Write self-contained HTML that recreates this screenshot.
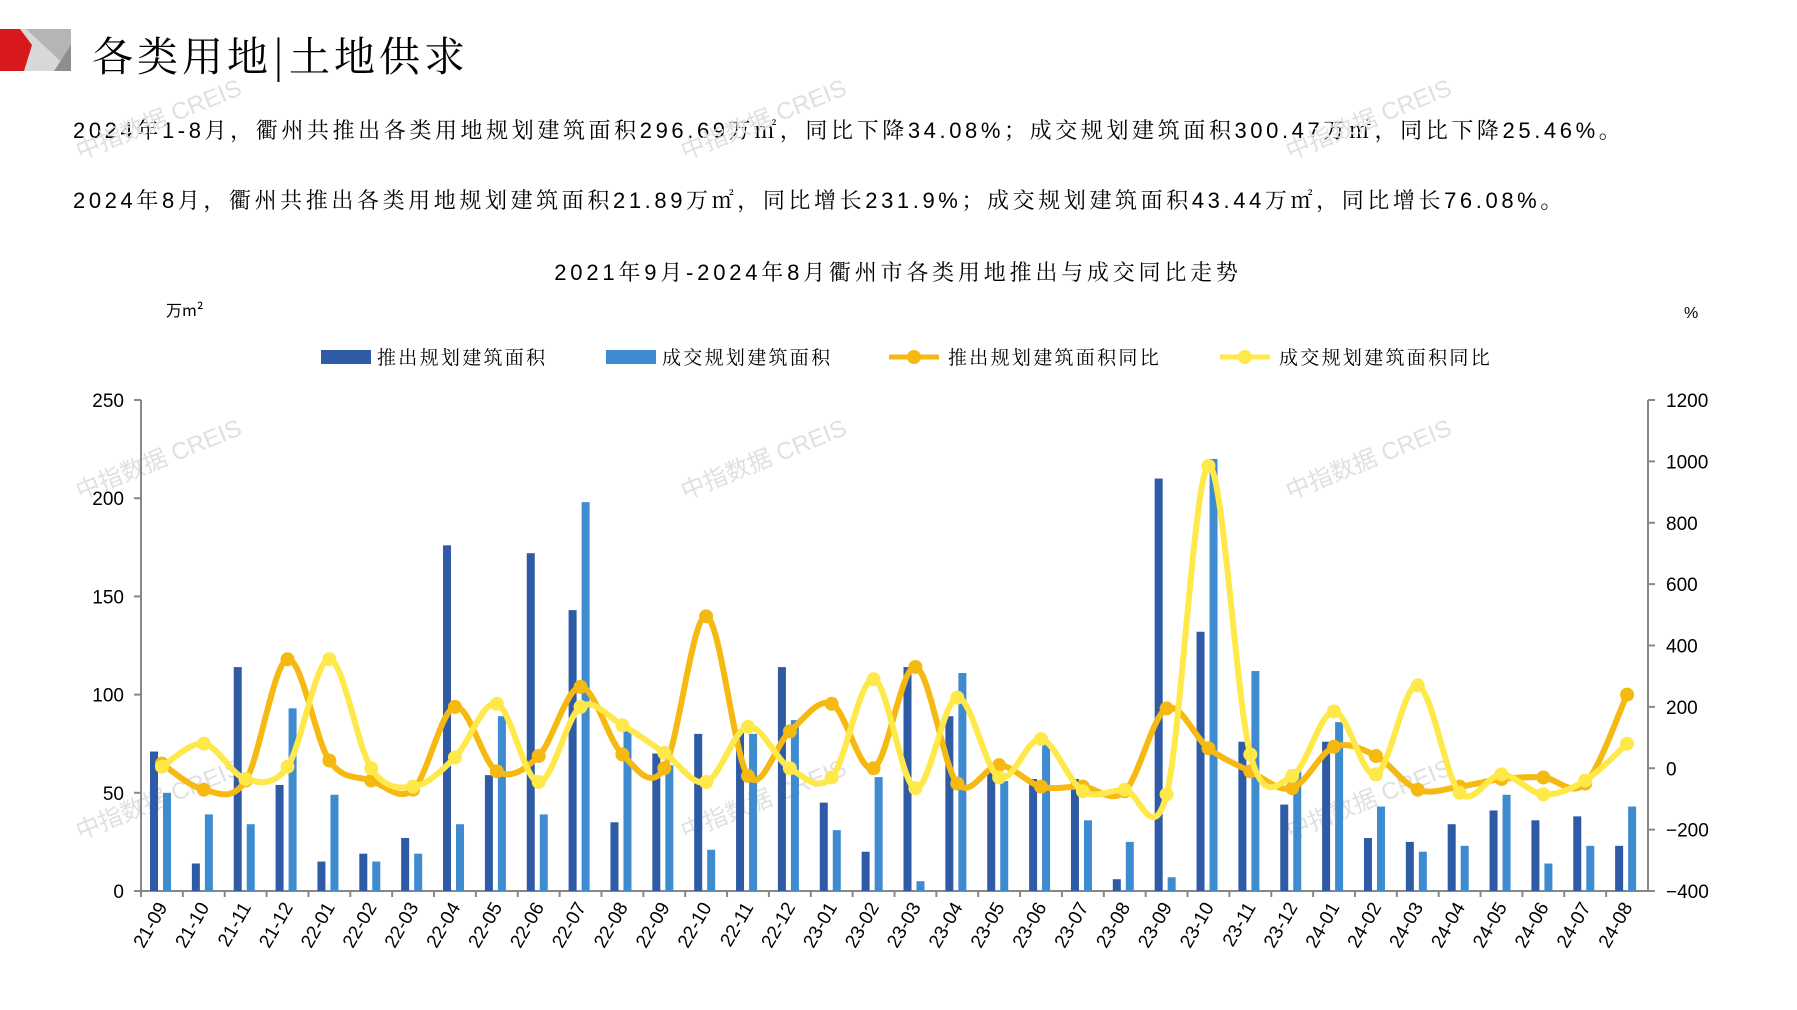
<!DOCTYPE html>
<html><head><meta charset="utf-8">
<style>
html,body{margin:0;padding:0;background:#fff;}
body{width:1797px;height:1010px;position:relative;overflow:hidden;font-family:"Liberation Sans","Noto Sans CJK SC",sans-serif;}
.t{position:absolute;white-space:nowrap;color:#000;}
</style></head><body>
<svg width="72" height="72" style="position:absolute;left:0;top:0">
<polygon points="0,29 26,29 71,71 0,71" fill="#d8d8d8"/>
<polygon points="26,29 71,29 71,71" fill="#b5b5b5"/>
<polygon points="71,45 71,71 54,71" fill="#8e8e8e"/>
<polygon points="0,29 20,29 32,45 24,71 0,71" fill="#d7191e"/>
</svg>
<div class="t" style="left:92px;top:24px;font-size:41px;font-family:'Noto Serif CJK SC',serif;letter-spacing:4px">各类用地|土地供求</div>
<div class="t" style="left:73px;top:114px;font-size:22px;letter-spacing:3.6px;font-family:'Liberation Sans','Noto Serif CJK SC',serif;">2024年1-8月，衢州共推出各类用地规划建筑面积296.69万㎡，同比下降34.08%；成交规划建筑面积300.47万㎡，同比下降25.46%。</div>
<div class="t" style="left:73px;top:184px;font-size:22px;letter-spacing:3.6px;font-family:'Liberation Sans','Noto Serif CJK SC',serif;">2024年8月，衢州共推出各类用地规划建筑面积21.89万㎡，同比增长231.9%；成交规划建筑面积43.44万㎡，同比增长76.08%。</div>
<svg id="c" width="1797" height="1010" style="position:absolute;left:0;top:0"></svg>
<script>
var P=[71,14,114,54,15,19,27,176,59,172,143,35,70,80,82,114,45,20,114,89,62,57,57,6,210,132,76,44,76,27,25,34,41,36,38,23];
var S=[50,39,34,93,49,15,19,34,89,39,198,83,64,21,80,87,31,58,5,111,56,76,36,25,7,220,112,62,86,43,20,23,49,14,23,43];
var PY=[15,-70,-40,355,25,-40,-70,200,-10,40,265,45,0,495,-25,120,210,0,330,-50,10,-60,-60,-75,195,65,-10,-65,70,40,-70,-60,-35,-30,-50,240];
var SY=[5,80,-35,5,355,0,-60,35,210,-45,200,140,50,-45,135,0,-30,290,-65,230,-30,95,-75,-70,-85,985,45,-25,185,-20,270,-80,-20,-85,-40,80];
var L=141,R=1648,T=400,B=891,W=(R-L)/36;
function yl(v){return B-v/250*(B-T);}
function yr(v){return B-(v+400)/1600*(B-T);}
var s='';
[[80,500],[685,500],[1290,500],[80,840],[685,840],[1290,840],[80,160],[685,160],[1290,160]].forEach(function(p){
s+='<text x="'+p[0]+'" y="'+p[1]+'" transform="rotate(-22 '+p[0]+' '+p[1]+')" font-size="24" fill="#e0e0e0" font-family="Liberation Sans,Noto Sans CJK SC,sans-serif">中指数据 CREIS</text>';});
s+='<text x="898" y="280" text-anchor="middle" font-size="22" letter-spacing="3.8" font-family="Liberation Sans,Noto Serif CJK SC,serif">2021年9月-2024年8月衢州市各类用地推出与成交同比走势</text>';
s+='<text x="166" y="316" font-size="16" font-family="Noto Sans CJK SC,sans-serif">万m²</text>';
s+='<text x="1684" y="318" font-size="16">%</text>';
var lf='font-size="19" letter-spacing="2.3" font-family="Noto Serif CJK SC,serif"';
s+='<rect x="321" y="350" width="50" height="14" fill="#2e5aa6"/><text x="377" y="364" '+lf+'>推出规划建筑面积</text>';
s+='<rect x="606" y="350" width="50" height="14" fill="#3e8bd0"/><text x="662" y="364" '+lf+'>成交规划建筑面积</text>';
s+='<line x1="889" y1="357" x2="939" y2="357" stroke="#f5b912" stroke-width="5"/><circle cx="914" cy="357" r="7" fill="#f5b912"/><text x="948" y="364" '+lf+'>推出规划建筑面积同比</text>';
s+='<line x1="1220" y1="357" x2="1270" y2="357" stroke="#ffe84a" stroke-width="5"/><circle cx="1245" cy="357" r="7" fill="#ffe84a"/><text x="1279" y="364" '+lf+'>成交规划建筑面积同比</text>';
s+='<line x1="'+L+'" y1="'+T+'" x2="'+L+'" y2="'+B+'" stroke="#888" stroke-width="2"/>';
s+='<line x1="'+R+'" y1="'+T+'" x2="'+R+'" y2="'+B+'" stroke="#888" stroke-width="2"/>';
s+='<line x1="'+L+'" y1="'+B+'" x2="'+R+'" y2="'+B+'" stroke="#888" stroke-width="2"/>';
for(var v=0;v<=250;v+=50){var y=yl(v);s+='<line x1="'+(L-7)+'" y1="'+y+'" x2="'+L+'" y2="'+y+'" stroke="#888" stroke-width="2"/><text x="'+(L-17)+'" y="'+(y+7)+'" text-anchor="end" font-size="19">'+v+'</text>';}
for(var v=-400;v<=1200;v+=200){var y=yr(v);s+='<line x1="'+R+'" y1="'+y+'" x2="'+(R+7)+'" y2="'+y+'" stroke="#888" stroke-width="2"/><text x="'+(R+18)+'" y="'+(y+7)+'" font-size="19">'+(v<0?'−'+(-v):v)+'</text>';}
var lab=[];for(var i=0;i<36;i++){var m=(8+i)%12+1,yy=21+Math.floor((8+i)/12);lab.push(yy+'-'+(m<10?'0':'')+m);}
for(var i=0;i<36;i++){var x0=L+i*W;
s+='<line x1="'+x0+'" y1="'+B+'" x2="'+x0+'" y2="'+(B+6)+'" stroke="#888" stroke-width="2"/>';
s+='<rect x="'+(x0+9)+'" y="'+yl(P[i])+'" width="8" height="'+(B-yl(P[i]))+'" fill="#2e5aa6"/>';
s+='<rect x="'+(x0+22)+'" y="'+yl(S[i])+'" width="8" height="'+(B-yl(S[i]))+'" fill="#3e8bd0"/>';
var cx=x0+W/2+6,cy=B+16;
s+='<text x="'+cx+'" y="'+cy+'" transform="rotate(-60 '+cx+' '+cy+')" text-anchor="end" font-size="19">'+lab[i]+'</text>';}
function curve(d,col){var pts=d.map(function(v,i){return [L+i*W+W/2,yr(v)];});
var p='M'+pts[0][0]+','+pts[0][1];
for(var i=0;i<pts.length-1;i++){var a=pts[i-1]||pts[i],b=pts[i],c=pts[i+1],e=pts[i+2]||c,t=6;
p+=' C'+(b[0]+(c[0]-a[0])/t)+','+(b[1]+(c[1]-a[1])/t)+' '+(c[0]-(e[0]-b[0])/t)+','+(c[1]-(e[1]-b[1])/t)+' '+c[0]+','+c[1];}
var o='<path d="'+p+'" fill="none" stroke="'+col+'" stroke-width="6"/>';
pts.forEach(function(q){o+='<circle cx="'+q[0]+'" cy="'+q[1]+'" r="7" fill="'+col+'"/>';});return o;}
s+=curve(PY,'#f5b912');
s+=curve(SY,'#ffe84a');
document.getElementById('c').innerHTML=s;
</script>
</body></html>
